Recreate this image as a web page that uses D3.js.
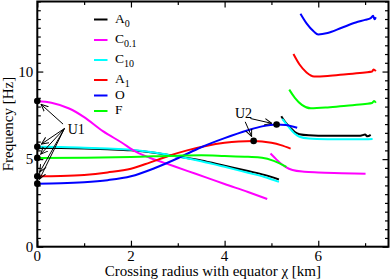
<!DOCTYPE html>
<html>
<head>
<meta charset="utf-8">
<script src="https://cdn.jsdelivr.net/npm/d3@7"></script>
<style>
  body { margin: 0; background: #fff; }
  svg { display: block; }
  text { font-family: "Liberation Serif", "Times New Roman", serif; }
</style>
</head>
<body>
<div id="chart"></div>
<script>
// branch values, [radius km, frequency Hz]
const a0Low = [[0,5.64],[0.5,5.63],[1,5.6],[1.5,5.56],[2,5.5],[2.5,5.36],[3,5.15],[3.5,4.92],[4,4.62],[4.5,4.32],[4.85,4.1],[5.16,3.84]];
const a0High = [[5.21,7.45],[5.3,7.1],[5.4,6.8],[5.5,6.55],[5.6,6.42],[5.8,6.36],[6.2,6.33],[6.6,6.33],[6.9,6.34],[7.0,6.4],[7.05,6.3],[7.12,6.38]];
const c01Low = [[0,8.32],[0.3,8.22],[0.68,7.89],[1,7.4],[1.4,6.6],[1.8,5.95],[2.11,5.42],[2.4,5.08],[2.7,4.8],[3.2,4.33],[3.6,3.96],[4,3.58],[4.5,3.12],[4.91,2.72]];
const c01High = [[4.98,5.32],[5.1,5.0],[5.2,4.75],[5.3,4.56],[5.45,4.38],[5.7,4.28],[6,4.24],[6.5,4.2],[7.01,4.16]];
const c10Low = [[0,5.7],[0.5,5.69],[1,5.65],[1.5,5.6],[2,5.53],[2.5,5.38],[3,5.15],[3.5,4.88],[4,4.56],[4.5,4.22],[4.85,3.98],[5.16,3.7]];
const c10High = [[5.23,7.3],[5.35,6.9],[5.5,6.45],[5.6,6.28],[5.8,6.18],[6.2,6.14],[6.6,6.13],[7.0,6.13],[7.16,6.15]];
const a1Low = [[0,4.02],[0.5,4.04],[1,4.1],[1.5,4.24],[2,4.45],[2.4,4.8],[2.8,5.18],[3.2,5.5],[3.6,5.75],[4,5.93],[4.3,6.01],[4.62,6.04],[5,5.93],[5.2,5.8],[5.41,5.6]];
const a1High = [[5.47,11.0],[5.6,10.4],[5.75,9.95],[5.91,9.72],[6.2,9.75],[6.6,9.85],[7.0,9.95],[7.15,10.0],[7.18,10.12],[7.23,10.02]];
const oLow = [[0,3.6],[0.5,3.62],[1,3.68],[1.5,3.8],[2,4.02],[2.5,4.48],[3,5.05],[3.5,5.68],[4,6.2],[4.5,6.65],[4.8,6.87],[5.11,6.98],[5.3,6.95],[5.55,6.79]];
const oHigh = [[5.62,13.3],[5.75,12.75],[5.9,12.3],[6.0,12.12],[6.2,12.2],[6.5,12.5],[6.8,12.8],[7.0,12.95],[7.12,13.05],[7.17,13.18],[7.2,12.98],[7.23,13.1]];
const fLow = [[0,5.07],[1,5.08],[2,5.12],[3,5.2],[3.5,5.22],[4,5.18],[4.5,5.13],[4.8,5.08],[5.05,4.9],[5.32,4.56]];
const fHigh = [[5.38,8.97],[5.5,8.5],[5.65,8.1],[5.84,7.9],[6.2,7.95],[6.6,8.05],[7.0,8.15],[7.15,8.2],[7.19,8.32],[7.23,8.22]];

const legendNames = [["A", "0"], ["C", "0.1"], ["C", "10"], ["A", "1"], ["O", ""], ["F", ""]];
const xTicks = [0, 2, 4, 6];
const yTicks = [0, 5, 10];
const xDomain = [0, 7.5];
const yDomain = [0, 14];

const colors = {A0: "#000000", C01: "#ff00ff", C10: "#00ffff", A1: "#ff0000", O: "#0000ff", F: "#00ff00"};

const series = [
  {key: "A0", branches: [a0Low, a0High]},
  {key: "C10", branches: [c10Low, c10High]},
  {key: "C01", branches: [c01Low, c01High]},
  {key: "A1", branches: [a1Low, a1High]},
  {key: "O", branches: [oLow, oHigh]},
  {key: "F", branches: [fLow, fHigh]}
];

const width = 390, height = 279;
const margin = {left: 37.3, right: 1.5, top: 1.5, bottom: 32.3};

const svg = d3.select("#chart").append("svg")
  .attr("width", width)
  .attr("height", height);

const x = d3.scaleLinear().domain(xDomain).range([margin.left, width - margin.right]);
const y = d3.scaleLinear().domain(yDomain).range([height - margin.bottom, margin.top]);

// curves
const line = d3.line()
  .x(d => x(d[0]))
  .y(d => y(d[1]))
  .curve(d3.curveMonotoneX);

series.forEach(s => {
  s.branches.forEach(b => {
    svg.append("path")
      .attr("d", line(b))
      .attr("fill", "none")
      .attr("stroke", colors[s.key])
      .attr("stroke-width", 2);
  });
});

// ticks, all four sides, pointing inward
function tickSide(axisFn, scale, transform, majors, minorStep) {
  const minors = d3.range(scale.domain()[0], scale.domain()[1] + 1e-9, minorStep)
    .filter(v => !majors.some(m => Math.abs(m - v) < 1e-9));
  svg.append("g").attr("transform", transform)
    .call(axisFn(scale).tickValues(majors).tickSize(-6).tickFormat(""))
    .call(g => g.select(".domain").remove());
  svg.append("g").attr("transform", transform)
    .call(axisFn(scale).tickValues(minors).tickSize(-3.5).tickFormat(""))
    .call(g => g.select(".domain").remove());
}
const yMajors = d3.range(0, 14.01, 5);
const xMajors = d3.range(0, 7.51, 2);
tickSide(d3.axisBottom, x, `translate(0,${y(0)})`, xMajors, 1);
tickSide(d3.axisTop, x, `translate(0,${y(14)})`, xMajors, 1);
tickSide(d3.axisLeft, y, `translate(${x(0)},0)`, yMajors, 0.5);
tickSide(d3.axisRight, y, `translate(${x(7.5)},0)`, yMajors, 0.5);
svg.selectAll(".tick line").attr("stroke", "#000").attr("stroke-width", 1.2);

// frame
svg.append("rect")
  .attr("x", x(0)).attr("y", y(14))
  .attr("width", x(7.5) - x(0)).attr("height", y(0) - y(14))
  .attr("fill", "none").attr("stroke", "#000").attr("stroke-width", 2);

// tick labels
svg.selectAll(".xlab").data(xTicks).enter().append("text")
  .attr("x", d => x(d)).attr("y", y(0) + 14)
  .attr("text-anchor", "middle").attr("font-size", 15)
  .text(d => d);
svg.selectAll(".ylab").data(yTicks).enter().append("text")
  .attr("x", x(0) - 4).attr("y", d => y(d) + 5)
  .attr("text-anchor", "end").attr("font-size", 15)
  .text(d => d);

// axis titles
svg.append("text")
  .attr("x", (x(0) + x(7.5)) / 2).attr("y", 276)
  .attr("text-anchor", "middle").attr("font-size", 15)
  .text("Crossing radius with equator \u03c7 [km]");
svg.append("text")
  .attr("transform", `translate(13,${(y(0) + y(14)) / 2}) rotate(-90)`)
  .attr("text-anchor", "middle").attr("font-size", 15)
  .text("Frequency [Hz]");

// legend
const legendKeys = ["A0", "C01", "C10", "A1", "O", "F"];
const legendBase = [22.5, 43, 63, 83, 98.5, 114];
legendKeys.forEach((k, i) => {
  const g = svg.append("g");
  g.append("line")
    .attr("x1", 94).attr("x2", 107.5)
    .attr("y1", legendBase[i] - 3).attr("y2", legendBase[i] - 3)
    .attr("stroke", colors[k]).attr("stroke-width", 2);
  const t = g.append("text").attr("x", 115).attr("y", legendBase[i]).attr("font-size", 13.5);
  t.append("tspan").text(legendNames[i][0]);
  if (legendNames[i][1]) {
    t.append("tspan").attr("dy", 4).attr("font-size", 10).text(legendNames[i][1]);
  }
});

// annotation dots: U1 at start of branches, U2 at two maxima
const u1Dots = [c01Low[0], c10Low[0], fLow[0], a1Low[0], oLow[0]];
const u2Dots = [oLow[11], a1Low[11]];
svg.selectAll(".dot").data(u1Dots.concat(u2Dots)).enter().append("circle")
  .attr("cx", d => x(d[0])).attr("cy", d => y(d[1])).attr("r", 3.3)
  .attr("fill", "#000");

svg.append("defs").append("marker")
  .attr("id", "arr").attr("viewBox", "0 0 10 10")
  .attr("refX", 9).attr("refY", 5)
  .attr("markerWidth", 8).attr("markerHeight", 8)
  .attr("markerUnits", "userSpaceOnUse")
  .attr("orient", "auto")
  .append("path").attr("d", "M0,1 L9,5 L0,9")
  .attr("fill", "none").attr("stroke", "#000").attr("stroke-width", 1.2);

function arrow(from, to) {
  const x0 = x(from[0]), y0 = y(from[1]);
  const x1 = x(to[0]), y1 = y(to[1]);
  const len = Math.hypot(x1 - x0, y1 - y0);
  const tx = x1 - (x1 - x0) / len * 5, ty = y1 - (y1 - y0) / len * 5;
  svg.append("line")
    .attr("x1", x0).attr("y1", y0).attr("x2", tx).attr("y2", ty)
    .attr("stroke", "#000").attr("stroke-width", 1)
    .attr("marker-end", "url(#arr)");
}
arrow([0.55, 7.0], u1Dots[0]);
u1Dots.slice(1).forEach(d => arrow([0.58, 6.75], d));
arrow([4.55, 7.32], u2Dots[0]);
arrow([4.44, 7.13], u2Dots[1]);

svg.append("text").attr("x", x(0.65)).attr("y", y(6.45)).attr("font-size", 14).text("U1");
svg.append("text").attr("x", x(4.22)).attr("y", y(7.32)).attr("font-size", 14).text("U2");
</script>
</body>
</html>
